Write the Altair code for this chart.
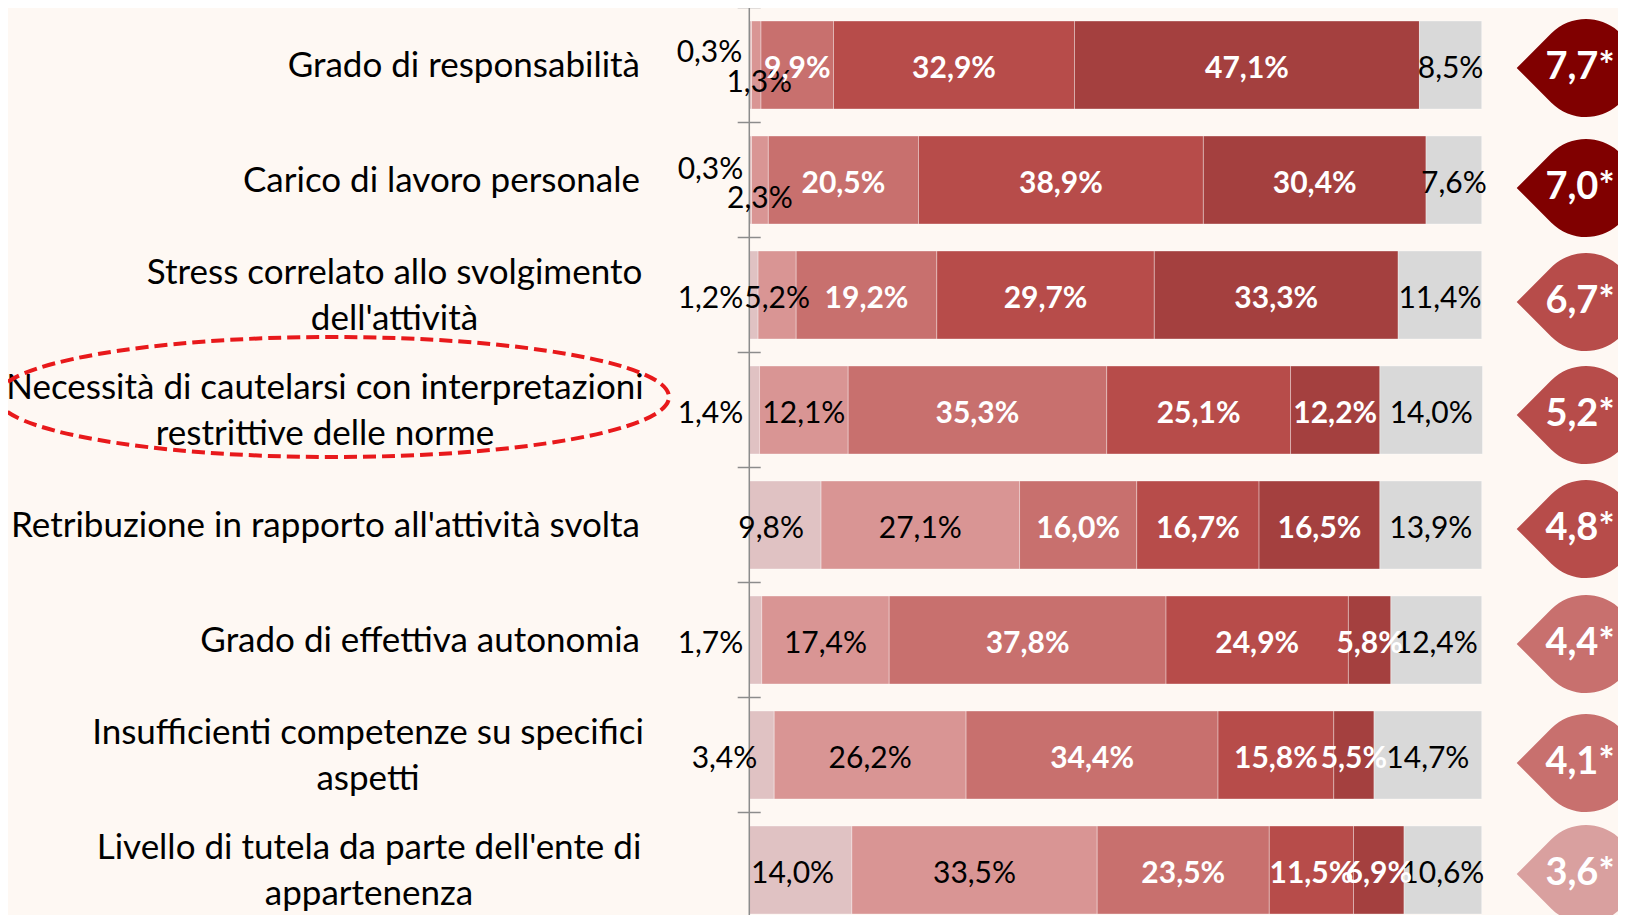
import altair as alt
import pandas as pd

# ---------------- data ----------------
categories = [
    "Grado di responsabilità",
    "Carico di lavoro personale",
    "Stress correlato allo svolgimento\ndell'attività",
    "Necessità di cautelarsi con interpretazioni\nrestrittive delle norme",
    "Retribuzione in rapporto all'attività svolta",
    "Grado di effettiva autonomia",
    "Insufficienti competenze su specifici\naspetti",
    "Livello di tutela da parte dell'ente di\nappartenenza",
]
level1 = [0.3, 0.3, 1.2, 1.4, 9.8, 1.7, 3.4, 14.0]
level2 = [1.3, 2.3, 5.2, 12.1, 27.1, 17.4, 26.2, 33.5]
level3 = [9.9, 20.5, 19.2, 35.3, 16.0, 37.8, 34.4, 23.5]
level4 = [32.9, 38.9, 29.7, 25.1, 16.7, 24.9, 15.8, 11.5]
level5 = [47.1, 30.4, 33.3, 12.2, 16.5, 5.8, 5.5, 6.9]
no_answer = [8.5, 7.6, 11.4, 14.0, 13.9, 12.4, 14.7, 10.6]
scores = [7.7, 7.0, 6.7, 5.2, 4.8, 4.4, 4.1, 3.6]
highlighted_row = 3

# ---------------- layout / style ----------------
W, H = 1610, 907
PX_PER_PCT = 7.324
X0 = 741.3            # plot x of 0 %
ROW0, PITCH = 57.0, 115.0
BAR_HALF = 44.0 / PITCH
X_DOMAIN = [-X0 / PX_PER_PCT, (W - X0) / PX_PER_PCT]
Y_DOMAIN = [-ROW0 / PITCH, (H - ROW0) / PITCH]
FONT = "Lato"
BG = "#FEF8F3"
LINE_H = 45.6

def px_x(px):
    return px / PX_PER_PCT

def px_y(px):
    return px / PITCH

level_names = ["L1", "L2", "L3", "L4", "L5", "NA"]
level_colors = ["#E0C2C3", "#D99594", "#C8706E", "#B74C4A", "#A4403F", "#D9D9D9"]
white_levels = {"L3", "L4", "L5"}

# label centre (page px) for wrapped category labels, None = right aligned
label_center_page = [None, None, 394.5, 325.0, None, None, 368.0, 369.0]
LABEL_RIGHT_PAGE = 640.0

# special placement of a few small value labels: (row, level) -> (align, dx px, dy px)
label_adjust = {
    (0, 0): ("right", -7, -16), (0, 1): ("center", 3, 13.5),
    (1, 0): ("right", -6, -14), (1, 1): ("center", 0, 15),
    (2, 0): ("right", -6, 0), (3, 0): ("right", -6, 0),
    (4, 0): ("center", -14, 0), (5, 0): ("right", -6, 0),
    (6, 0): ("right", 8, 0), (7, 0): ("center", -8, 0),
}
badge_dy = [3, 8, 7, 5, 4, 4, 8, 4]
BADGE_X_PAGE = 1586.0
BADGE_TEXT_X_PAGE = 1580.0
BADGE_R = 49.0

def fmt(v):
    return f"{v:.1f}".replace(".", ",")

# ---------------- tables ----------------
series = [level1, level2, level3, level4, level5, no_answer]
bar_rows, lab_rows = [], []
for i in range(len(categories)):
    start = 0.0
    for k, name in enumerate(level_names):
        v = series[k][i]
        end = start + v
        bar_rows.append(dict(row=i, level=name, x=start, x2=end,
                             y=i - BAR_HALF, y2=i + BAR_HALF))
        anchor, dx, dy = label_adjust.get((i, k), ("center", 0, 0))
        lx = (0.0 if anchor == "right" else (start + end) / 2) + px_x(dx)
        lab_rows.append(dict(row=i, text=fmt(v) + "%", x=lx, y=i + px_y(dy),
                             anchor=anchor,
                             kind=("white" if name in white_levels else "black")))
        start = end
bars = pd.DataFrame(bar_rows)
labs = pd.DataFrame(lab_rows)

cat_rows = []
for i, c in enumerate(categories):
    cp = label_center_page[i]
    if cp is None:
        cat_rows.append(dict(text=c, x=px_x(LABEL_RIGHT_PAGE - 8 - X0), y=i, anchor="right"))
    else:
        cat_rows.append(dict(text=c, x=px_x(cp - 8 - X0), y=i, anchor="center"))
cats = pd.DataFrame(cat_rows)

def tier(s):
    if s >= 7:
        return "T1"
    if s >= 4.5:
        return "T2"
    if s >= 4:
        return "T3"
    return "T4"

badges = pd.DataFrame(dict(
    row=list(range(len(scores))),
    text=[fmt(s) + "*" for s in scores],
    tier=[tier(s) for s in scores],
    x=[px_x(BADGE_X_PAGE - 8 - X0)] * len(scores),
    tx=[px_x(BADGE_TEXT_X_PAGE - 8 - X0)] * len(scores),
    y=[i + px_y(d) for i, d in enumerate(badge_dy)],
))

ticks = pd.DataFrame(dict(y=[i - 0.5 for i in range(len(categories) + 1)],
                          x=[px_x(-11.6)] * (len(categories) + 1),
                          x2=[px_x(11.4)] * (len(categories) + 1)))
axis_line = pd.DataFrame(dict(x=[0.0], y=[Y_DOMAIN[0]], y2=[Y_DOMAIN[1]]))
ellipse = pd.DataFrame(dict(x=[px_x(325 - X0)], y=[highlighted_row + px_y(-13)]))

xs = alt.Scale(domain=X_DOMAIN, nice=False, zero=False)
ys = alt.Scale(domain=Y_DOMAIN, nice=False, zero=False, reverse=True)

def X(f):
    return alt.X(f, type="quantitative", scale=xs, axis=None)

def Y(f):
    return alt.Y(f, type="quantitative", scale=ys, axis=None)

bar_layer = alt.Chart(bars).mark_rect(stroke="white", strokeWidth=1, strokeOpacity=0.35).encode(
    x=X("x"), x2="x2", y=Y("y"), y2="y2",
    color=alt.Color("level:N", scale=alt.Scale(domain=level_names, range=level_colors), legend=None),
)

def value_layer(kind, anchor):
    sub = labs[(labs["kind"] == kind) & (labs["anchor"] == anchor)]
    return alt.Chart(sub).mark_text(
        font=FONT, fontSize=30, align=anchor, baseline="middle", dy=4,
        fontWeight=("bold" if kind == "white" else "normal"),
        color=("white" if kind == "white" else "black"),
    ).encode(x=X("x"), y=Y("y"), text="text:N")

val_layers = [value_layer("black", "center"), value_layer("white", "center"),
              value_layer("black", "right")]

cat_layers = [
    alt.Chart(cats[cats["anchor"] == a]).mark_text(
        font=FONT, fontSize=35, align=a, baseline="middle", color="black",
        lineBreak="\n", lineHeight=LINE_H,
        dy=(1 if a == "right" else 1 - LINE_H / 2),
    ).encode(x=X("x"), y=Y("y"), text="text:N")
    for a in ["right", "center"]
]

axis_layer = alt.Chart(axis_line).mark_rule(color="#8C8C8C", strokeWidth=1.5).encode(
    x=X("x"), y=Y("y"), y2="y2")
tick_layer = alt.Chart(ticks).mark_rule(color="#8C8C8C", strokeWidth=1.5).encode(
    x=X("x"), x2="x2", y=Y("y"))

DROP = "M -1.4142 0 L -0.7071 -0.7071 A 1 1 0 1 1 -0.7071 0.7071 Z"
badge_layer = alt.Chart(badges).mark_point(
    shape=DROP, filled=True, opacity=1, strokeWidth=0, size=(2 * BADGE_R) ** 2,
).encode(
    x=X("x"), y=Y("y"),
    color=alt.Color("tier:N", scale=alt.Scale(domain=["T1", "T2", "T3", "T4"],
                    range=["#800000", "#B74C4A", "#C8706E", "#D9A09F"]), legend=None),
)
badge_text = alt.Chart(badges).mark_text(
    font=FONT, fontSize=38, fontWeight="bold", color="white", align="center", baseline="middle",
).encode(x=X("tx"), y=Y("y"), text="text:N")

E_W, E_H = 672.0, 120.0
ry = E_H / E_W
ELLIPSE = f"M -1 0 A 1 {ry:.4f} 0 1 0 1 0 A 1 {ry:.4f} 0 1 0 -1 0 Z"
ellipse_layer = alt.Chart(ellipse).mark_point(
    shape=ELLIPSE, filled=False, stroke="#E8191B", strokeWidth=4,
    strokeDash=[13, 6], size=E_W ** 2, opacity=1,
).encode(x=X("x"), y=Y("y"))

chart = alt.layer(
    bar_layer, axis_layer, tick_layer, *val_layers, *cat_layers,
    badge_layer, badge_text, ellipse_layer,
).resolve_scale(color="independent").properties(
    width=W, height=H, background=BG, padding=0,
    autosize=alt.AutoSizeParams(type="none"),
).configure_view(stroke=None)

chart.save("out.html", embed_options={"renderer": "svg", "actions": False})
